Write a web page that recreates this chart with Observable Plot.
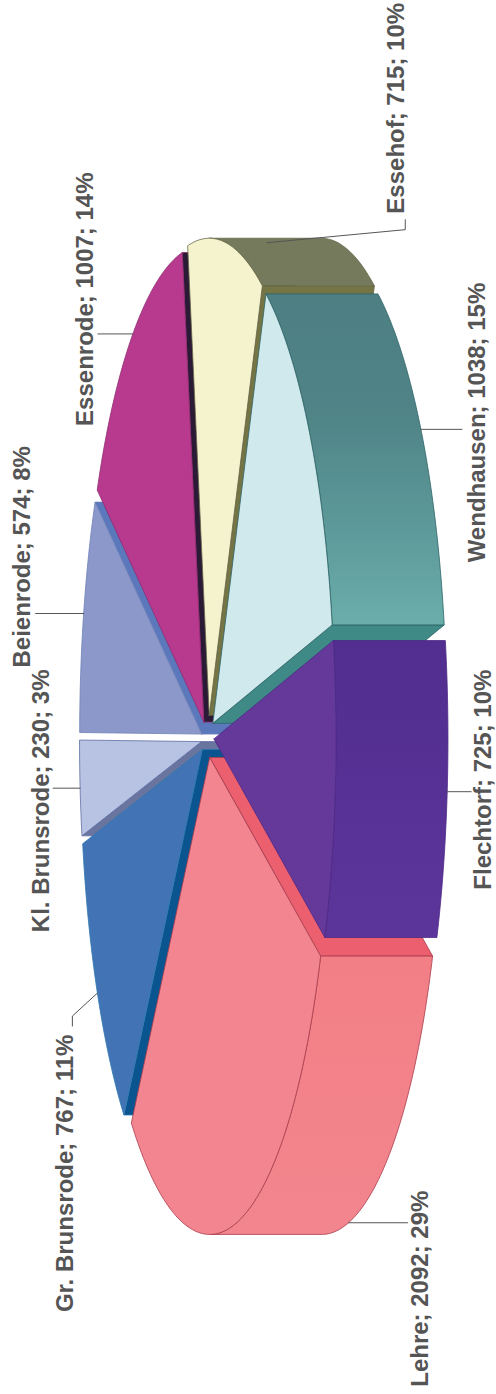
<!DOCTYPE html>
<html>
<head>
<meta charset="utf-8">
<script src="https://cdn.jsdelivr.net/npm/d3@7"></script>
<script src="https://cdn.jsdelivr.net/npm/@observablehq/plot@0.6"></script>
<style>html,body{margin:0;padding:0;background:#fff}svg{display:block}</style>
</head>
<body>
<div id="chart"></div>
<script>
// Data, clockwise from the slice that starts just above the right-hand axis
const names = ["Flechtorf", "Lehre", "Gr. Brunsrode", "Kl. Brunsrode", "Beienrode", "Essenrode", "Essehof", "Wendhausen"];
const values = [725, 2092, 767, 230, 574, 1007, 715, 1038];
const percents = [10, 29, 11, 3, 8, 14, 10, 15];

// Styles
const topColors = ["#65399a", "#f38591", "#4274b5", "#b8c2e2", "#8c98c9", "#b83a8e", "#f5f3cd", "#cfe9ec"];
const wallColors = ["url(#wFlechtorf)", "url(#wLehre)", "#4274b5", "#b8c2e2", "#8c98c9", "#b83a8e", "#767a5c", "url(#wWend)"];
const cutColors = ["#553092", "#ec5f6f", "#0a5490", "#69759f", "#5b78bd", "#2b1a36", "#747444", "#3f8a86"];
const edgeColors = ["#4b2a85", "#a83c4c", "#2f78b0", "#5f6fa5", "#6f80b8", "#8e2c70", "#66684a", "#2d6468"];

// Layout of the tilted disc
const cx = 208, cy = 736, rx = 122, ry = 477, depth = 112, explode = 0.045;
const startDeg = -11.9;
const W = 496, H = 1394;
// Extra per-slice pull-out on top of the common explosion
const nudges = [[0, 0], [0, 0], [-1.5, 2], [-1.5, 3], [-1.5, 3], [-1.5, 3], [0, 0], [0, 0]];

// Label placement relative to each slice's attachment point
const attachDepth = [1, 1, 0, 0, 0, 0, 0.37, 1];
const leaderBends = [
  [[24, 0]],
  [[59, 0]],
  [[-25, 23], [-25, 33]],
  [[-27, 0]],
  [[-48, 0]],
  [[-35, 0]],
  [[138, -13], [138, -23]],
  [[41, 0]]
];
const labelOffsets = [[44, 98], [79, 164], [-24.5, 319], [-31.5, 144], [-54, 54], [-39.5, 92], [136.6, -29], [64, 133]];

const rad = Math.PI / 180;
const arcs = d3.pie().sort(null).value(d => d)
  .startAngle(startDeg * rad).endAngle((startDeg + 360) * rad)(values);

const slices = names.map((name, i) => {
  const a0 = arcs[i].startAngle, a1 = arcs[i].endAngle, mid = (a0 + a1) / 2;
  const ox = cx + explode * rx * Math.cos(mid) + nudges[i][0], oy = cy + explode * ry * Math.sin(mid) + nudges[i][1];
  const pt = (t, d = 0) => ({x: ox + rx * Math.cos(t) + d, y: oy + ry * Math.sin(t)});
  return {i, name, a0, a1, mid, ox, oy, pt};
});

function arcPoints(s, from, to, d = 0) {
  const n = Math.max(2, Math.ceil(Math.abs(to - from) / (1 * rad)));
  return d3.range(n + 1).map(k => s.pt(from + (to - from) * k / n, d));
}
const close = p => [...p, p[0]];
function face(points, fill, stroke) {
  return Plot.line(close(points), {x: "x", y: "y", fill, stroke, strokeWidth: 0.8, curve: "linear"});
}

function sliceFaces(s) {
  const out = [];
  const apex = {x: s.ox, y: s.oy}, apexD = {x: s.ox + depth, y: s.oy};
  for (const [t, visible] of [[s.a0, Math.sin(s.a0) > 0.01], [s.a1, Math.sin(s.a1) < -0.01]]) {
    if (visible) out.push(face([apex, s.pt(t), s.pt(t, depth), apexD], cutColors[s.i], edgeColors[s.i]));
  }
  // outer wall: the part of the rim that faces the viewer
  const ranges = [[-90, 90], [270, 450]].map(r => [r[0] * rad, r[1] * rad]);
  for (const [lo, hi] of ranges) {
    const from = Math.max(lo, s.a0), to = Math.min(hi, s.a1);
    if (to > from) {
      const a = arcPoints(s, from, to), b = arcPoints(s, from, to, depth).reverse();
      out.push(face([...a, ...b], wallColors[s.i], edgeColors[s.i]));
    }
  }
  out.push(face([apex, ...arcPoints(s, s.a0, s.a1)], topColors[s.i], edgeColors[s.i]));
  return out;
}

const painted = [...slices].sort((p, q) => Math.cos(p.mid) - Math.cos(q.mid)).flatMap(sliceFaces);

const labelData = slices.map(s => {
  const a = s.pt(s.mid, attachDepth[s.i] * depth);
  return {
    text: `${s.name}; ${values[s.i]}; ${percents[s.i]}%`,
    x: a.x + labelOffsets[s.i][0], y: a.y + labelOffsets[s.i][1],
    leader: [a, ...leaderBends[s.i].map(b => ({x: a.x + b[0], y: a.y + b[1]}))]
  };
});

const defs = () => d3.create("svg:defs").html(`
  <linearGradient id="wWend" x1="0" y1="0" x2="0" y2="1">
    <stop offset="0" stop-color="#4d7f83"/><stop offset="0.35" stop-color="#4f8386"/>
    <stop offset="0.75" stop-color="#5f9c9c"/><stop offset="1" stop-color="#6aaeaa"/>
  </linearGradient>
  <linearGradient id="wLehre" x1="0" y1="0" x2="0" y2="1">
    <stop offset="0" stop-color="#f37f86"/><stop offset="1" stop-color="#f2858e"/>
  </linearGradient>
  <linearGradient id="wFlechtorf" x1="0" y1="0" x2="0" y2="1">
    <stop offset="0" stop-color="#522e90"/><stop offset="1" stop-color="#5c359a"/>
  </linearGradient>`).node();

const chart = Plot.plot({
  width: W, height: H,
  margin: 0,
  style: {background: "#fff", fontFamily: "'Liberation Sans', Arial, sans-serif"},
  x: {type: "linear", domain: [0, W], range: [0, W], axis: null},
  y: {type: "linear", domain: [0, H], range: [0, H], axis: null},
  marks: [
    defs,
    ...painted,
    ...labelData.map(d => Plot.line(d.leader, {x: "x", y: "y", stroke: "#555", strokeWidth: 1})),
    Plot.text(labelData, {
      x: "x", y: "y", text: "text", rotate: -90,
      textAnchor: "start", lineAnchor: "bottom",
      fontSize: 24, fontWeight: 700, fill: "#555"
    })
  ]
});
document.getElementById("chart").append(chart);
</script>
</body>
</html>
